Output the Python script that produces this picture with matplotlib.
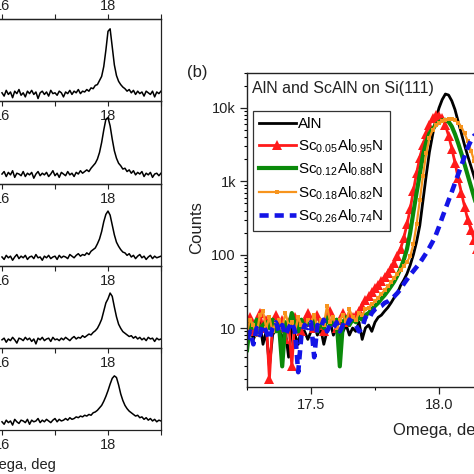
import numpy as np
import matplotlib
matplotlib.use("Agg")
import matplotlib.pyplot as plt
from matplotlib.ticker import MultipleLocator, LogLocator, NullFormatter, FormatStrFormatter

plt.rcParams['font.family'] = ['Liberation Sans', 'DejaVu Sans']
plt.rcParams['mathtext.fontset'] = 'custom'
plt.rcParams['mathtext.rm'] = 'Liberation Sans'
plt.rcParams['mathtext.default'] = 'regular'

W = 474.0
INK = "#222222"

# ---- (a) stacked rocking curves (normalised), omega scan 16..19 deg
OMEGA_A = np.linspace(16.0, 19.0, 76)
PANEL_1 = [.10, .06, .13, .08, .11, .04, .12, .09, .14, .07,
           .10, .05, .12, .09, .13, .08, .11, .03, .10, .12,
           .08, .11, .06, .13, .09, .10, .07, .12, .10, .05,
           .11, .09, .13, .08, .12, .10, .14, .09, .12, .11,
           .14, .12, .16, .15, .19, .20, .25, .30, .42, .62,
           .85, .88, .66, .44, .31, .24, .20, .17, .15, .12,
           .14, .10, .13, .08, .12, .09, .11, .06, .12, .10,
           .08, .12, .05, .11, .09, .12]
PANEL_2 = [.12, .15, .09, .14, .11, .16, .08, .13, .12, .10,
           .15, .09, .13, .11, .14, .07, .12, .15, .10, .13,
           .11, .14, .09, .12, .16, .10, .13, .08, .14, .12,
           .10, .15, .11, .13, .09, .14, .12, .16, .13, .15,
           .17, .15, .19, .22, .25, .30, .38, .50, .65, .78,
           .80, .70, .54, .40, .31, .25, .22, .18, .19, .15,
           .17, .13, .16, .11, .14, .12, .15, .09, .13, .11,
           .14, .08, .12, .13, .10, .13]
PANEL_3 = [.11, .08, .13, .10, .12, .07, .11, .14, .09, .12,
           .10, .13, .08, .11, .12, .09, .14, .10, .11, .07,
           .12, .10, .13, .09, .11, .12, .08, .13, .10, .12,
           .11, .09, .14, .12, .10, .13, .15, .12, .14, .13,
           .16, .14, .18, .20, .22, .27, .33, .42, .54, .63,
           .67, .62, .50, .38, .29, .24, .20, .17, .16, .13,
           .15, .11, .13, .09, .12, .14, .10, .12, .08, .11,
           .13, .09, .12, .10, .11, .12]
PANEL_4 = [.10, .12, .07, .11, .09, .13, .10, .06, .12, .11,
           .09, .13, .10, .12, .08, .11, .05, .12, .10, .13,
           .09, .11, .12, .08, .13, .10, .11, .09, .12, .10,
           .13, .11, .09, .12, .14, .11, .13, .12, .15, .13,
           .15, .17, .16, .19, .21, .24, .29, .35, .45, .55,
           .60, .67, .63, .50, .38, .29, .24, .20, .18, .16,
           .14, .15, .12, .14, .11, .13, .10, .12, .09, .13,
           .11, .12, .08, .12, .10, .11]
PANEL_5 = [.10, .07, .12, .09, .11, .06, .13, .10, .08, .12,
           .11, .09, .13, .07, .12, .10, .11, .14, .09, .12,
           .10, .13, .11, .09, .12, .14, .10, .13, .11, .12,
           .14, .12, .15, .13, .14, .16, .15, .17, .16, .18,
           .17, .19, .18, .21, .22, .24, .27, .30, .35, .41,
           .48, .56, .63, .66, .64, .55, .44, .36, .30, .26,
           .23, .21, .19, .17, .18, .15, .16, .13, .15, .12,
           .14, .11, .13, .10, .12, .11]
PANELS = [PANEL_1, PANEL_2, PANEL_3, PANEL_4, PANEL_5]

# ---- (b) AlN and ScAlN on Si(111), counts vs omega
OMEGA_B = np.linspace(17.25, 18.25, 81)
ALN = [8, 10, 7, 9, 12, 6, 9, 3, 8, 10,
       11, 7, 9, 4, 10, 8, 6, 10, 9, 7,
       9, 11, 8, 10, 6, 9, 12, 8, 10, 7,
       9, 11, 8, 10, 9, 12, 7, 10, 11, 9,
       12, 14, 15, 17, 19, 22, 26, 30, 38, 45,
       55, 72, 100, 150, 250, 550, 1200, 2500, 4300, 7000,
       10000, 13000, 15500, 15000, 12500, 9500, 6500, 4500, 3100, 2200,
       1600, 1150, 850, 620, 460, 350, 270, 210, 170, 140, 115]
SC05 = [11, 14, 9, 12, 16, 10, 13, 2, 12, 15,
        10, 13, 7, 12, 3, 14, 11, 9, 13, 16,
        12, 10, 15, 11, 9, 14, 17, 12, 10, 13,
        16, 12, 15, 14, 15, 17, 20, 24, 27, 31,
        35, 39, 44, 50, 57, 66, 78, 95, 120, 170,
        260, 420, 750, 1300, 2100, 3100, 4400, 5900, 7200, 8000,
        7900, 7300, 5800, 4200, 2800, 1800, 1100, 700, 450, 300,
        220, 160, 120, 95, 75, 60, 50, 42, 36, 31, 27]
SC12 = [5, 12, 10, 13, 9, 11, 12, 10, 13, 9,
        11, 3, 12, 10, 16, 11, 9, 13, 10, 12,
        11, 13, 9, 12, 10, 14, 11, 12, 13, 3,
        12, 14, 11, 13, 12, 14, 13, 15, 16, 18,
        20, 22, 25, 28, 32, 37, 43, 52, 65, 85,
        120, 200, 380, 700, 1250, 2300, 3400, 4500, 5200, 5900,
        6400, 6800, 6900, 6500, 5600, 4400, 3300, 2400, 1700, 1200,
        850, 600, 430, 320, 240, 180, 140, 110, 90, 75, 62]
SC18 = [9, 13, 11, 8, 15, 17, 10, 14, 9, 12,
        13, 10, 16, 11, 12, 9, 14, 11, 10, 13,
        12, 15, 10, 13, 11, 20, 12, 14, 10, 13,
        15, 12, 18, 14, 13, 16, 15, 18, 19, 21,
        23, 26, 29, 33, 37, 42, 48, 55, 62, 70,
        80, 95, 140, 260, 550, 1200, 2400, 3900, 5000, 5800,
        6300, 6700, 6900, 7000, 7000, 6800, 6300, 5500, 4500, 3500,
        2600, 1900, 1400, 1000, 720, 520, 380, 280, 210, 160, 120]
SC26 = [7, 9, 6, 10, 8, 11, 9, 7, 10, 12,
        9, 11, 8, 10, 12, 9, 2.5, 8, 11, 10,
        12, 4, 11, 10, 13, 9, 11, 10, 12, 9,
        11, 10, 13, 12, 11, 9, 10, 14, 13, 16,
        18, 19, 20, 22, 23, 25, 27, 30, 34, 40,
        46, 53, 60, 68, 77, 90, 105, 125, 150, 185,
        240, 320, 420, 550, 720, 950, 1250, 1650, 2200, 2900,
        3600, 4200, 4600, 4850, 4950, 4900, 4700, 4400, 4000, 3600, 3200]
LABELS = ["AlN", r"Sc$_{0.05}$Al$_{0.95}$N", r"Sc$_{0.12}$Al$_{0.88}$N",
          r"Sc$_{0.18}$Al$_{0.82}$N", r"Sc$_{0.26}$Al$_{0.74}$N"]


def px_axes(fig, left, top, right, bottom):
    return fig.add_axes([left / W, 1 - bottom / W, (right - left) / W, (bottom - top) / W])


fig = plt.figure(figsize=(4.74, 4.74), dpi=100)

# stacked panels on the left (cut off by the crop)
edges = [19, 101, 184, 266, 348, 430]
for k, vals in enumerate(PANELS):
    ax = px_axes(fig, -104, edges[k], 161, edges[k + 1])
    ax.set_facecolor("none")
    ax.plot(OMEGA_A, vals, color="black", lw=1.1)
    ax.set_xlim(14, 19)
    ax.set_ylim(0, 1)
    ax.set_yticks([])
    ax.xaxis.set_major_locator(MultipleLocator(2))
    ax.xaxis.set_minor_locator(MultipleLocator(1))
    ax.tick_params(axis="x", which="both", direction="out", length=3.5, width=0.8,
                   labelsize=10.5, pad=2.5, colors=INK)
    if k == 0:
        top = ax.secondary_xaxis("top")
        top.xaxis.set_major_locator(MultipleLocator(2))
        top.xaxis.set_minor_locator(MultipleLocator(1))
        top.tick_params(which="both", direction="out", length=3.5, width=0.8,
                        labelsize=10.5, pad=0.6, colors=INK)
        top.spines["top"].set_linewidth(0.9)
        top.spines["top"].set_color(INK)
    for s in ax.spines.values():
        s.set_linewidth(0.9)
        s.set_color(INK)

fig.text(15 / W, 1 - 465 / W, "Omega, deg", ha="center", va="center", fontsize=10.5, color=INK)

# panel (b)
ax = px_axes(fig, 247, 73, 631, 387)
ax.plot(OMEGA_B, ALN, color="black", lw=2, label=LABELS[0])
ax.plot(OMEGA_B, SC05, color="#ff1a1a", lw=2, marker="^", ms=6.5, mew=0, label=LABELS[1])
ax.plot(OMEGA_B, SC12, color="#0a8a0a", lw=3, label=LABELS[2])
ax.plot(OMEGA_B, SC18, color="#f7941d", lw=1.6, marker="s", ms=3.2, mew=0, label=LABELS[3])
ax.plot(OMEGA_B, SC26, color="#1414e6", lw=3.3, ls=(0, (2.0, 1.3)), label=LABELS[4])

ax.set_yscale("log")
ax.set_xlim(17.25, 18.75)
ax.set_ylim(1.57, 3.0e4)
ax.set_yticks([10, 100, 1000, 10000], labels=["10", "100", "1k", "10k"])
ax.yaxis.set_minor_locator(LogLocator(base=10, subs=np.arange(2, 10)))
ax.yaxis.set_minor_formatter(NullFormatter())
ax.xaxis.set_major_locator(MultipleLocator(0.5))
ax.xaxis.set_major_formatter(FormatStrFormatter("%.1f"))
ax.xaxis.set_minor_locator(MultipleLocator(0.25))
ax.tick_params(which="major", direction="out", length=5, width=0.9, labelsize=10.5,
               colors=INK, pad=3)
ax.tick_params(which="minor", direction="out", length=2.5, width=0.8)
for s in ax.spines.values():
    s.set_linewidth(1.0)
    s.set_color(INK)

ax.text(5 / 384, (387 - 88) / 314, "AlN and ScAlN on Si(111)", transform=ax.transAxes,
        ha="left", va="center", fontsize=11.5, color=INK)
leg = ax.legend(loc="upper left", bbox_to_anchor=(253 / W, 1 - 111 / W),
                bbox_transform=fig.transFigure, fontsize=11, handlelength=2.4,
                handletextpad=0.15, borderpad=0.4, labelspacing=0.4,
                fancybox=False, framealpha=1, edgecolor="#333333", borderaxespad=0)
leg.get_frame().set_linewidth(0.9)

fig.text(197 / W, 1 - 73 / W, "(b)", ha="center", va="center", fontsize=12, color=INK)
fig.text(197 / W, 1 - 228 / W, "Counts", ha="center", va="center", rotation=90,
         fontsize=12, color=INK)
fig.text(439 / W, 1 - 430 / W, "Omega, deg", ha="center", va="center", fontsize=12, color=INK)

fig.savefig("out.png", dpi=100)
